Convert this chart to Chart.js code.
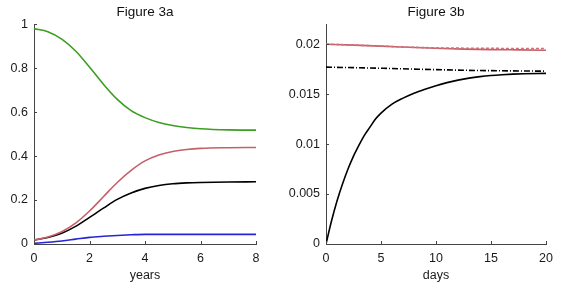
<!DOCTYPE html>
<html>
<head>
<meta charset="utf-8">
<script src="https://cdn.jsdelivr.net/npm/chart.js@4/dist/chart.umd.min.js"></script>
<style>
  body { margin: 0; background: #fff; }
  #wrap { position: relative; width: 563px; height: 295px; }
  #left { position: absolute; left: 0; top: 0; }
  #right { position: absolute; left: 280px; top: 0; }
</style>
</head>
<body>
<div id="wrap">
  <canvas id="left" width="280" height="295"></canvas>
  <canvas id="right" width="283" height="295"></canvas>
</div>
<script>
// Figure 3a (years)
const yearsX = [0, 0.5, 1, 1.5, 2, 2.5, 3, 3.5, 4, 4.5, 5, 5.5, 6, 7, 8];
const greenA = [0.980, 0.966, 0.932, 0.878, 0.805, 0.727, 0.658, 0.607, 0.575, 0.553, 0.539, 0.530, 0.524, 0.519, 0.518];
const redA   = [0.018, 0.032, 0.056, 0.095, 0.150, 0.215, 0.280, 0.335, 0.378, 0.405, 0.421, 0.430, 0.435, 0.438, 0.439];
const blackA = [0.018, 0.030, 0.049, 0.080, 0.121, 0.163, 0.203, 0.232, 0.253, 0.266, 0.274, 0.278, 0.280, 0.282, 0.283];
const blueA  = [0.003, 0.008, 0.014, 0.022, 0.030, 0.035, 0.039, 0.042, 0.044, 0.044, 0.044, 0.044, 0.044, 0.044, 0.044];

// Figure 3b (days)
const daysX  = [0, 0.5, 1, 1.5, 2, 2.5, 3, 3.5, 4, 4.5, 5, 6, 7, 8, 9, 10, 11, 12, 13, 14, 15, 16, 17, 18, 20];
const blackB = [0, 0.0023, 0.0043, 0.0060, 0.0075, 0.0088, 0.0099, 0.0109, 0.0117, 0.0125, 0.0131, 0.0140, 0.0146, 0.0151, 0.0155,
                0.01585, 0.01615, 0.0164, 0.0166, 0.01675, 0.01686, 0.01694, 0.0170, 0.01704, 0.01708];
const flatX     = [0, 2.5, 5, 7.5, 10, 12.5, 15, 17.5, 20];
const blackDotB = [0.0177, 0.01765, 0.01759, 0.01752, 0.01745, 0.01739, 0.01735, 0.01732, 0.0173];
const redB      = [0.0200, 0.01991, 0.01981, 0.01969, 0.01959, 0.01951, 0.01946, 0.01943, 0.0194];
const redDashB  = [0.0200, 0.01991, 0.01981, 0.01970, 0.01963, 0.01960, 0.01958, 0.01957, 0.01957];

const FONT = "'Liberation Sans', Arial, sans-serif";
const AXIS = '#444';

const toPts = (xs, ys) => xs.map((x, i) => ({ x: x, y: ys[i] }));

function line(xs, ys, color, dash) {
    return {
        data: toPts(xs, ys),
        borderColor: color,
        borderWidth: 1.6,
        borderDash: dash || [],
        pointRadius: 0,
        fill: false,
        cubicInterpolationMode: 'monotone'
    };
}

// small inward tick marks like the original
const innerTicks = {
    id: 'innerTicks',
    afterDatasetsDraw(chart) {
        const ctx = chart.ctx;
        const a = chart.chartArea;
        ctx.save();
        ctx.strokeStyle = AXIS;
        ctx.lineWidth = 1;
        ctx.beginPath();
        chart.scales.x.ticks.forEach(t => {
            const px = Math.round(chart.scales.x.getPixelForValue(t.value)) + 0.5;
            ctx.moveTo(px, a.bottom);
            ctx.lineTo(px, a.bottom - 3);
        });
        chart.scales.y.ticks.forEach(t => {
            const py = Math.round(chart.scales.y.getPixelForValue(t.value)) + 0.5;
            ctx.moveTo(a.left, py);
            ctx.lineTo(a.left + 3, py);
        });
        ctx.stroke();
        ctx.restore();
    }
};

function makeChart(id, opts) {
    return new Chart(document.getElementById(id), {
        type: 'line',
        data: { datasets: opts.datasets },
        options: {
            responsive: false,
            animation: false,
            layout: { padding: { left: 0, right: opts.rightPad, top: 0, bottom: 0 } },
            plugins: {
                legend: { display: false },
                tooltip: { enabled: false },
                title: {
                    display: true,
                    text: opts.title,
                    fullSize: false,
                    color: '#111',
                    font: { family: FONT, size: 13.5, weight: 'normal' },
                    padding: { top: 4, bottom: 4 }
                }
            },
            scales: {
                x: {
                    type: 'linear',
                    min: 0,
                    max: opts.xMax,
                    ticks: {
                        stepSize: opts.xStep,
                        padding: 7,
                        maxRotation: 0,
                        color: '#1a1a1a',
                        font: { family: FONT, size: 12.5 }
                    },
                    grid: { drawOnChartArea: false, drawTicks: false },
                    border: { color: AXIS, width: 1 },
                    title: {
                        display: true,
                        text: opts.xTitle,
                        color: '#1a1a1a',
                        font: { family: FONT, size: 12.5 },
                        padding: { top: 3, bottom: 12 }
                    },
                    afterFit(s) { s.height = 51; }
                },
                y: {
                    type: 'linear',
                    min: 0,
                    max: opts.yMax,
                    afterBuildTicks(s) {
                        s.ticks = s.ticks.filter(t => Math.abs(t.value / opts.yStep - Math.round(t.value / opts.yStep)) < 1e-6);
                    },
                    ticks: {
                        stepSize: opts.yStep,
                        padding: 6,
                        color: '#1a1a1a',
                        font: { family: FONT, size: 12.5 },
                        callback: v => String(+v.toFixed(4))
                    },
                    grid: { drawOnChartArea: false, drawTicks: false },
                    border: { color: AXIS, width: 1 },
                    afterFit(s) { s.width = opts.yWidth; }
                }
            }
        },
        plugins: [innerTicks]
    });
}

makeChart('left', {
    title: 'Figure 3a',
    xTitle: 'years',
    xMax: 8, xStep: 2,
    yMax: 1, yStep: 0.2,
    yWidth: 34, rightPad: 24,
    datasets: [
        line(yearsX, greenA, '#3c9e22'),
        line(yearsX, redA, '#c4606a'),
        line(yearsX, blackA, '#000000'),
        line(yearsX, blueA, '#2525d6')
    ]
});

makeChart('right', {
    title: 'Figure 3b',
    xTitle: 'days',
    xMax: 20, xStep: 5,
    yMax: 0.022, yStep: 0.005,
    yWidth: 46, rightPad: 17,
    datasets: [
        line(flatX, redDashB, '#d07078', [3, 2]),
        line(flatX, redB, '#c4606a'),
        line(flatX, blackDotB, '#000000', [6, 2, 1, 2]),
        line(daysX, blackB, '#000000')
    ]
});
</script>
</body>
</html>
